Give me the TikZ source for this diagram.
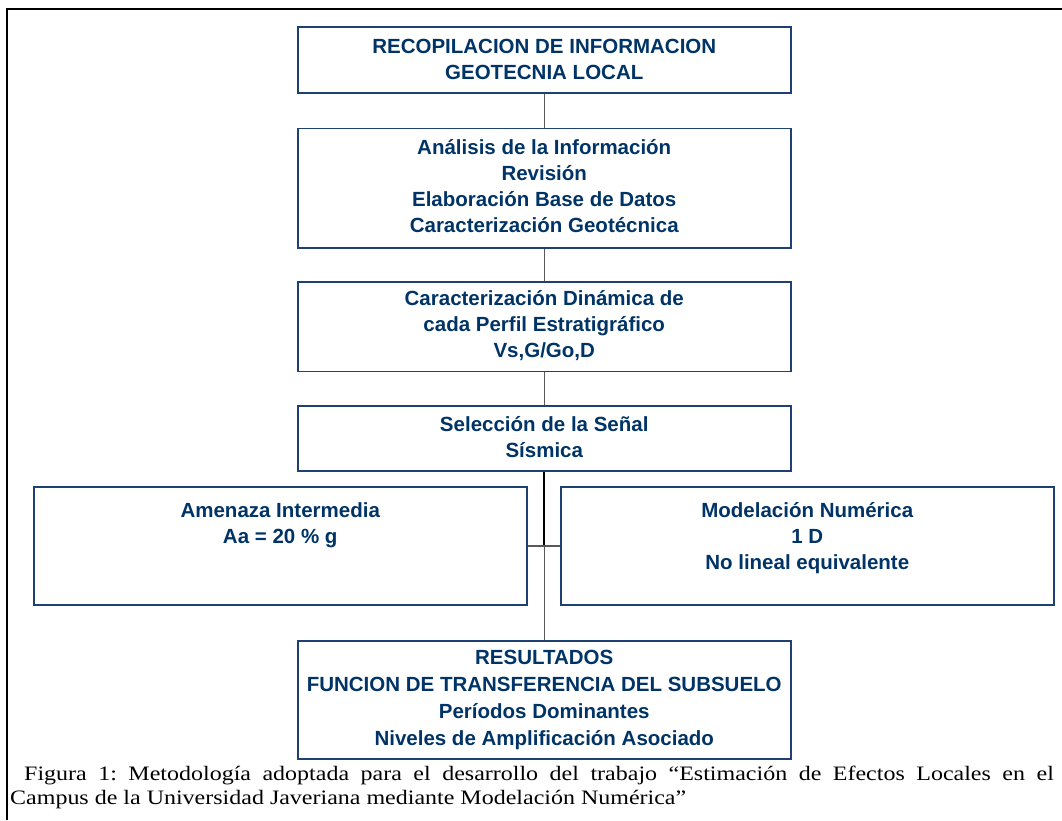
\documentclass[tikz,border=0pt]{standalone}
\usepackage{fontspec}
\usepackage{graphicx}
\setmainfont{Liberation Serif}
\setsansfont{Liberation Sans}
\usetikzlibrary{positioning}

\definecolor{navy}{RGB}{0,51,102}
\definecolor{boxblue}{RGB}{31,64,115}
\definecolor{linegray}{RGB}{90,90,90}

\begin{document}
\frenchspacing
\begin{tikzpicture}[x=1pt, y=-1pt,
    box/.style={rectangle, draw=boxblue, line width=1.5pt, anchor=north west, inner sep=0pt, minimum width=493pt},
    txt/.style={font=\sffamily\bfseries\fontsize{20.5}{26}\selectfont, text=navy, align=center, inner sep=0pt, anchor=base},
    link/.style={draw=linegray, line width=1.5pt},
    caption/.style={font=\fontsize{20.5}{24}\selectfont, inner sep=0pt, anchor=base west}]
    \useasboundingbox (0,0) rectangle (1062,820);

    % frame
    \draw[line width=2pt] (7,820) -- (7,9) -- (1062,9);

    % boxes
    \node[box, minimum height=66pt] (recop) at (297,26) {};
    \node[box, minimum height=119.5pt] (analisis) at (297,127.5) {};
    \node[box, minimum height=89.5pt] (dinamica) at (297,281) {};
    \node[box, minimum height=65pt] (senal) at (297,405) {};
    \node[box, minimum height=118pt] (amenaza) at (33,486) {};
    \node[box, minimum height=118pt] (modelacion) at (560,486) {};
    \node[box, minimum height=118pt] (resultados) at (297,640) {};

    % texts (base = last line)
    \node[txt] (recopt) at ([yshift=-53pt]recop.north) {RECOPILACION DE INFORMACION\\GEOTECNIA LOCAL};
    \node[txt] (analisist) at ([yshift=-105pt]analisis.north) {Análisis de la Información\\Revisión\\Elaboración Base de Datos\\Caracterización Geotécnica};
    \node[txt] (dinamicat) at ([yshift=-76pt]dinamica.north) {Caracterización Dinámica de\\cada Perfil Estratigráfico\\Vs,G/Go,D};
    \node[txt] (senalt) at ([yshift=-52pt]senal.north) {Selección de la Señal\\Sísmica};
    \node[txt] (amenazat) at ([yshift=-57pt]amenaza.north) {Amenaza Intermedia\\Aa = 20 \% g};
    \node[txt] (modelaciont) at ([yshift=-83pt]modelacion.north) {Modelación Numérica\\1 D\\No lineal equivalente};
    \node[txt, font=\sffamily\bfseries\fontsize{20.5}{27}\selectfont] (resultadost) at ([yshift=-105pt]resultados.north) {RESULTADOS\\FUNCION DE TRANSFERENCIA DEL SUBSUELO\\Períodos Dominantes\\Niveles de Amplificación Asociado};

    % connectors
    \coordinate (cruce) at (senal.south |- amenaza.east);
    \draw[link] (recop.south) -- (analisis.north);
    \draw[link] (analisis.south) -- (dinamica.north);
    \draw[link] (dinamica.south) -- (senal.north);
    \draw[line width=2pt] (senal.south) -- (cruce);
    \draw[link] (cruce) -- (resultados.north);
    \draw[link] (amenaza.east) -- (modelacion.west);

    % caption
    \node[caption] (cap1) at (24,780) {\scalebox{1.17}[1]{\makebox[880pt][s]{Figura 1: Metodología adoptada para el desarrollo del trabajo “Estimación de Efectos Locales en el}}};
    \node[caption] (cap2) at (10,804) {\scalebox{1.17}[1]{Campus de la Universidad Javeriana mediante Modelación Numérica”}};
\end{tikzpicture}
\end{document}
